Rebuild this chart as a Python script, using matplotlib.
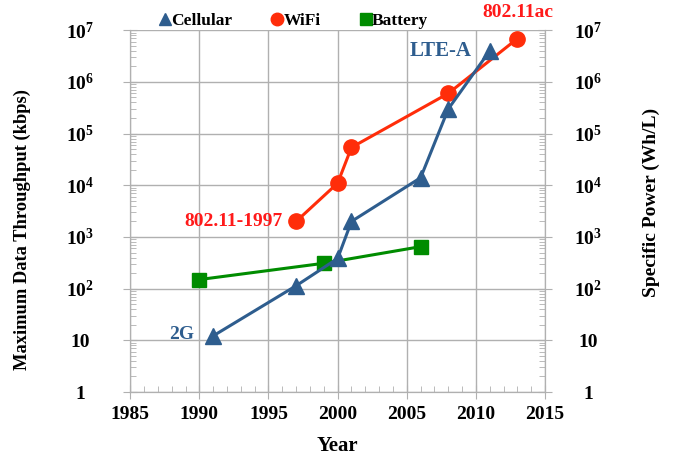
import math
import matplotlib
matplotlib.use("Agg")
import matplotlib.pyplot as plt
from matplotlib.ticker import FixedLocator, FuncFormatter, LogLocator, MultipleLocator

### Data
cell_year = [1991, 1997, 2000, 2001, 2006, 2008, 2011]
cell_kbps = [12.2, 114, 384, 2000, 14000, 300000, 4000000]
wifi_year = [1997, 2000, 2001, 2008, 2013]
wifi_kbps = [2000, 11000, 54000, 600000, 6900000]
batt_year = [1990, 1999, 2006]
batt_whl = [150, 310, 650]

### Style
c_cell = "#2e5d8e"
c_wifi = "#ff2d0a"
c_batt = "#008c00"
c_lbl = "#ff1a1a"
c_grid = "#b0b0b0"
plt.rcParams['font.family'] = ['Liberation Serif', 'DejaVu Serif']
plt.rcParams['font.weight'] = 'bold'
plt.rcParams['axes.labelweight'] = 'bold'
plt.rcParams['mathtext.fontset'] = 'custom'
plt.rcParams['mathtext.rm'] = 'Liberation Serif:bold'
plt.rcParams['mathtext.bf'] = 'Liberation Serif:bold'
plt.rcParams['mathtext.it'] = 'Liberation Serif:bold'

def fmt_log(v, pos):
	e = int(round(math.log10(v)))
	if e == 0:
		return "1"
	if e == 1:
		return "10"
	return r"$10^{%d}$" % e

def style_y(a, pad):
	a.yaxis.set_major_locator(FixedLocator([10.0**k for k in range(8)]))
	a.yaxis.set_minor_locator(LogLocator(base=10, subs=range(2, 10)))
	a.yaxis.set_major_formatter(FuncFormatter(fmt_log))
	a.yaxis.set_minor_formatter(FuncFormatter(lambda v, p: ""))
	a.tick_params(axis="y", which="major", direction="inout", length=10, color=c_grid, labelsize=14, pad=pad)
	a.tick_params(axis="y", which="minor", direction="in", length=4, color=c_grid)
	a.spines["top"].set_visible(False)
	for s in ["left", "bottom", "right"]:
		a.spines[s].set_color(c_grid)

fig = plt.figure(figsize=(6.78, 4.58), dpi=100)
ax = fig.add_axes([0.192, 0.144, 0.612, 0.790])
ax.set_yscale("log")
ax.set_xlim(1985, 2015)
ax.set_ylim(1, 1e7)
ax.grid(True, which="major", color=c_grid, lw=1.0)
ax.set_axisbelow(True)
style_y(ax, 31)

ax.xaxis.set_major_locator(MultipleLocator(5))
ax.xaxis.set_minor_locator(MultipleLocator(1))
ax.tick_params(axis="x", which="major", direction="inout", length=10, color=c_grid, labelsize=14, pad=5)
ax.tick_params(axis="x", which="minor", direction="in", length=4, color=c_grid)

ax2 = ax.twinx()
ax2.set_yscale("log")
ax2.set_ylim(1, 1e7)
style_y(ax2, 26)

### Series
ax.plot(batt_year, batt_whl, color=c_batt, lw=2.2, marker="s", ms=10, zorder=3, label="Battery")
ax.plot(wifi_year, wifi_kbps, color=c_wifi, lw=2.2, marker="o", ms=11, zorder=4, label="WiFi")
ax.plot(cell_year, cell_kbps, color=c_cell, lw=2.2, marker="^", ms=11, zorder=5, label="Cellular")

### Annotations
ax.text(1989.6, 13, "2G", color=c_cell, fontsize=14, fontweight="bold", ha="right", va="center")
ax.text(1996.0, 2000, "802.11-1997", color=c_lbl, fontsize=14, fontweight="bold", ha="right", va="center")
ax.text(2009.7, 4.0e6, "LTE-A", color=c_cell, fontsize=15, fontweight="bold", ha="right", va="center")
ax.text(2013, 1.5e7, "802.11ac", color=c_lbl, fontsize=14, fontweight="bold", ha="center", va="bottom", clip_on=False)

### Legend
h, l = ax.get_legend_handles_labels()
order = [2, 1, 0]
leg = ax.legend([h[i] for i in order], [l[i] for i in order], loc="lower left", bbox_to_anchor=(0.055, 0.985),
	ncol=3, frameon=False, handlelength=0.6, handletextpad=0.05, columnspacing=2.3, fontsize=12.5, borderaxespad=0)
for lh in leg.legend_handles:
	lh.set_linestyle("none")
	lh.set_markersize(9)
for t in leg.get_texts():
	t.set_fontweight("bold")

ax.set_xlabel("Year", fontsize=15)
ax.set_ylabel("Maximum Data Throughput (kbps)", fontsize=13.3)
ax2.set_ylabel("Specific Power (Wh/L)", fontsize=14)
ax.xaxis.set_label_coords(0.5, -0.122)
ax.yaxis.set_label_coords(-0.239, 0.448)
ax2.yaxis.set_label_coords(1.234, 0.525)

for t in ax.get_xticklabels() + ax.get_yticklabels() + ax2.get_yticklabels():
	t.set_fontweight("bold")
for t in ax.get_yticklabels() + ax2.get_yticklabels():
	t.set_horizontalalignment("center")

fig.savefig("out.png", dpi=100)
